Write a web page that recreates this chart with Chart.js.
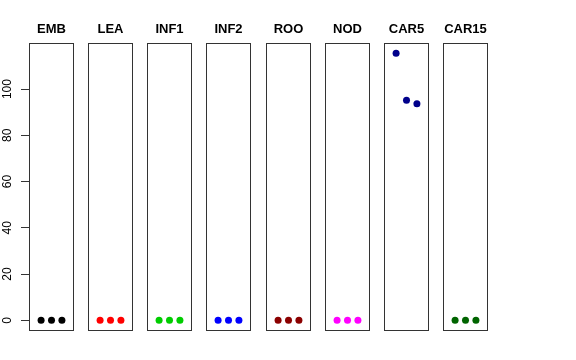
<!DOCTYPE html>
<html>
<head>
<meta charset="utf-8">
<script src="https://cdn.jsdelivr.net/npm/chart.js@4"></script>
<style>
  body { margin: 0; background: #fff; }
  #wrap { position: relative; width: 576px; height: 360px; }
  .panel { position: absolute; top: 0; height: 360px; }
</style>
</head>
<body>
<div id="wrap"></div>
<script>
const panels = ["EMB", "LEA", "INF1", "INF2", "ROO", "NOD", "CAR5", "CAR15"];
const colors = ["#000000", "#ff0000", "#00cd00", "#0000ff", "#8b0000", "#ff00ff", "#00008b", "#006400"];
const xValues = [1, 2, 3];
const series = [
  [0, 0, 0],
  [0, 0, 0],
  [0, 0, 0],
  [0, 0, 0],
  [0, 0, 0],
  [0, 0, 0],
  [115.5, 95.2, 93.7],
  [0, 0, 0]
];
const yTicks = [0, 20, 40, 60, 80, 100];

Chart.defaults.font.family = "'Liberation Sans', Arial, sans-serif";
Chart.defaults.color = "#000";

const firstLeft = 29;
const pitch = 59.14;
const panelW = 44.5;

// frame round each panel
const boxPlugin = {
  id: "box",
  afterDraw(chart) {
    const a = chart.chartArea;
    const ctx = chart.ctx;
    ctx.save();
    ctx.strokeStyle = "#333";
    ctx.lineWidth = 1;
    ctx.strokeRect(Math.round(a.left) + 0.5, Math.round(a.top) + 0.5,
      Math.round(a.width) - 1, Math.round(a.height) - 1);
    ctx.restore();
  }
};

// rotated y tick labels like base R
const yLabelPlugin = {
  id: "ylabels",
  afterDraw(chart) {
    const s = chart.scales.y;
    const ctx = chart.ctx;
    ctx.save();
    ctx.font = "12px 'Liberation Sans', Arial, sans-serif";
    ctx.fillStyle = "#000";
    ctx.textAlign = "center";
    ctx.textBaseline = "middle";
    yTicks.forEach(v => {
      ctx.save();
      ctx.translate(8, s.getPixelForValue(v));
      ctx.rotate(-Math.PI / 2);
      ctx.fillText(String(v), 0, 0);
      ctx.restore();
    });
    ctx.restore();
  }
};

const wrap = document.getElementById("wrap");

panels.forEach((name, i) => {
  const left = Math.round(firstLeft + i * pitch);
  const x0 = i === 0 ? 0 : left;
  const w = Math.round(left + panelW) - x0;
  const box = document.createElement("div");
  box.className = "panel";
  box.style.left = x0 + "px";
  box.style.width = w + "px";
  const cv = document.createElement("canvas");
  box.appendChild(cv);
  wrap.appendChild(box);

  const yAxis = {
    type: "linear",
    display: i === 0,
    min: -4.62,
    max: 120.1,
    ticks: { display: false },
    grid: { drawOnChartArea: false, drawTicks: true, tickLength: 8, color: "#333" },
    border: { display: false }
  };
  if (i === 0) {
    yAxis.afterBuildTicks = s => { s.ticks = yTicks.map(v => ({ value: v })); };
    yAxis.afterFit = s => { s.width = 29; };
  }

  new Chart(cv, {
    type: "scatter",
    data: {
      datasets: [{
        data: xValues.map((x, k) => ({ x: x, y: series[i][k] })),
        backgroundColor: colors[i],
        borderColor: colors[i],
        pointRadius: 3.5,
        pointBorderWidth: 0
      }]
    },
    options: {
      responsive: true,
      maintainAspectRatio: false,
      animation: false,
      devicePixelRatio: 1,
      layout: { autoPadding: false, padding: { top: 0, bottom: 29, left: 0, right: 0 } },
      plugins: {
        legend: { display: false },
        tooltip: { enabled: false },
        title: {
          display: true,
          text: name,
          fullSize: false,
          color: "#000",
          font: { size: 13, weight: "bold" },
          padding: { top: 22, bottom: 5 }
        }
      },
      scales: {
        x: { type: "linear", display: false, min: -0.16, max: 4.16 },
        y: yAxis
      }
    },
    plugins: i === 0 ? [boxPlugin, yLabelPlugin] : [boxPlugin]
  });
});
</script>
</body>
</html>
